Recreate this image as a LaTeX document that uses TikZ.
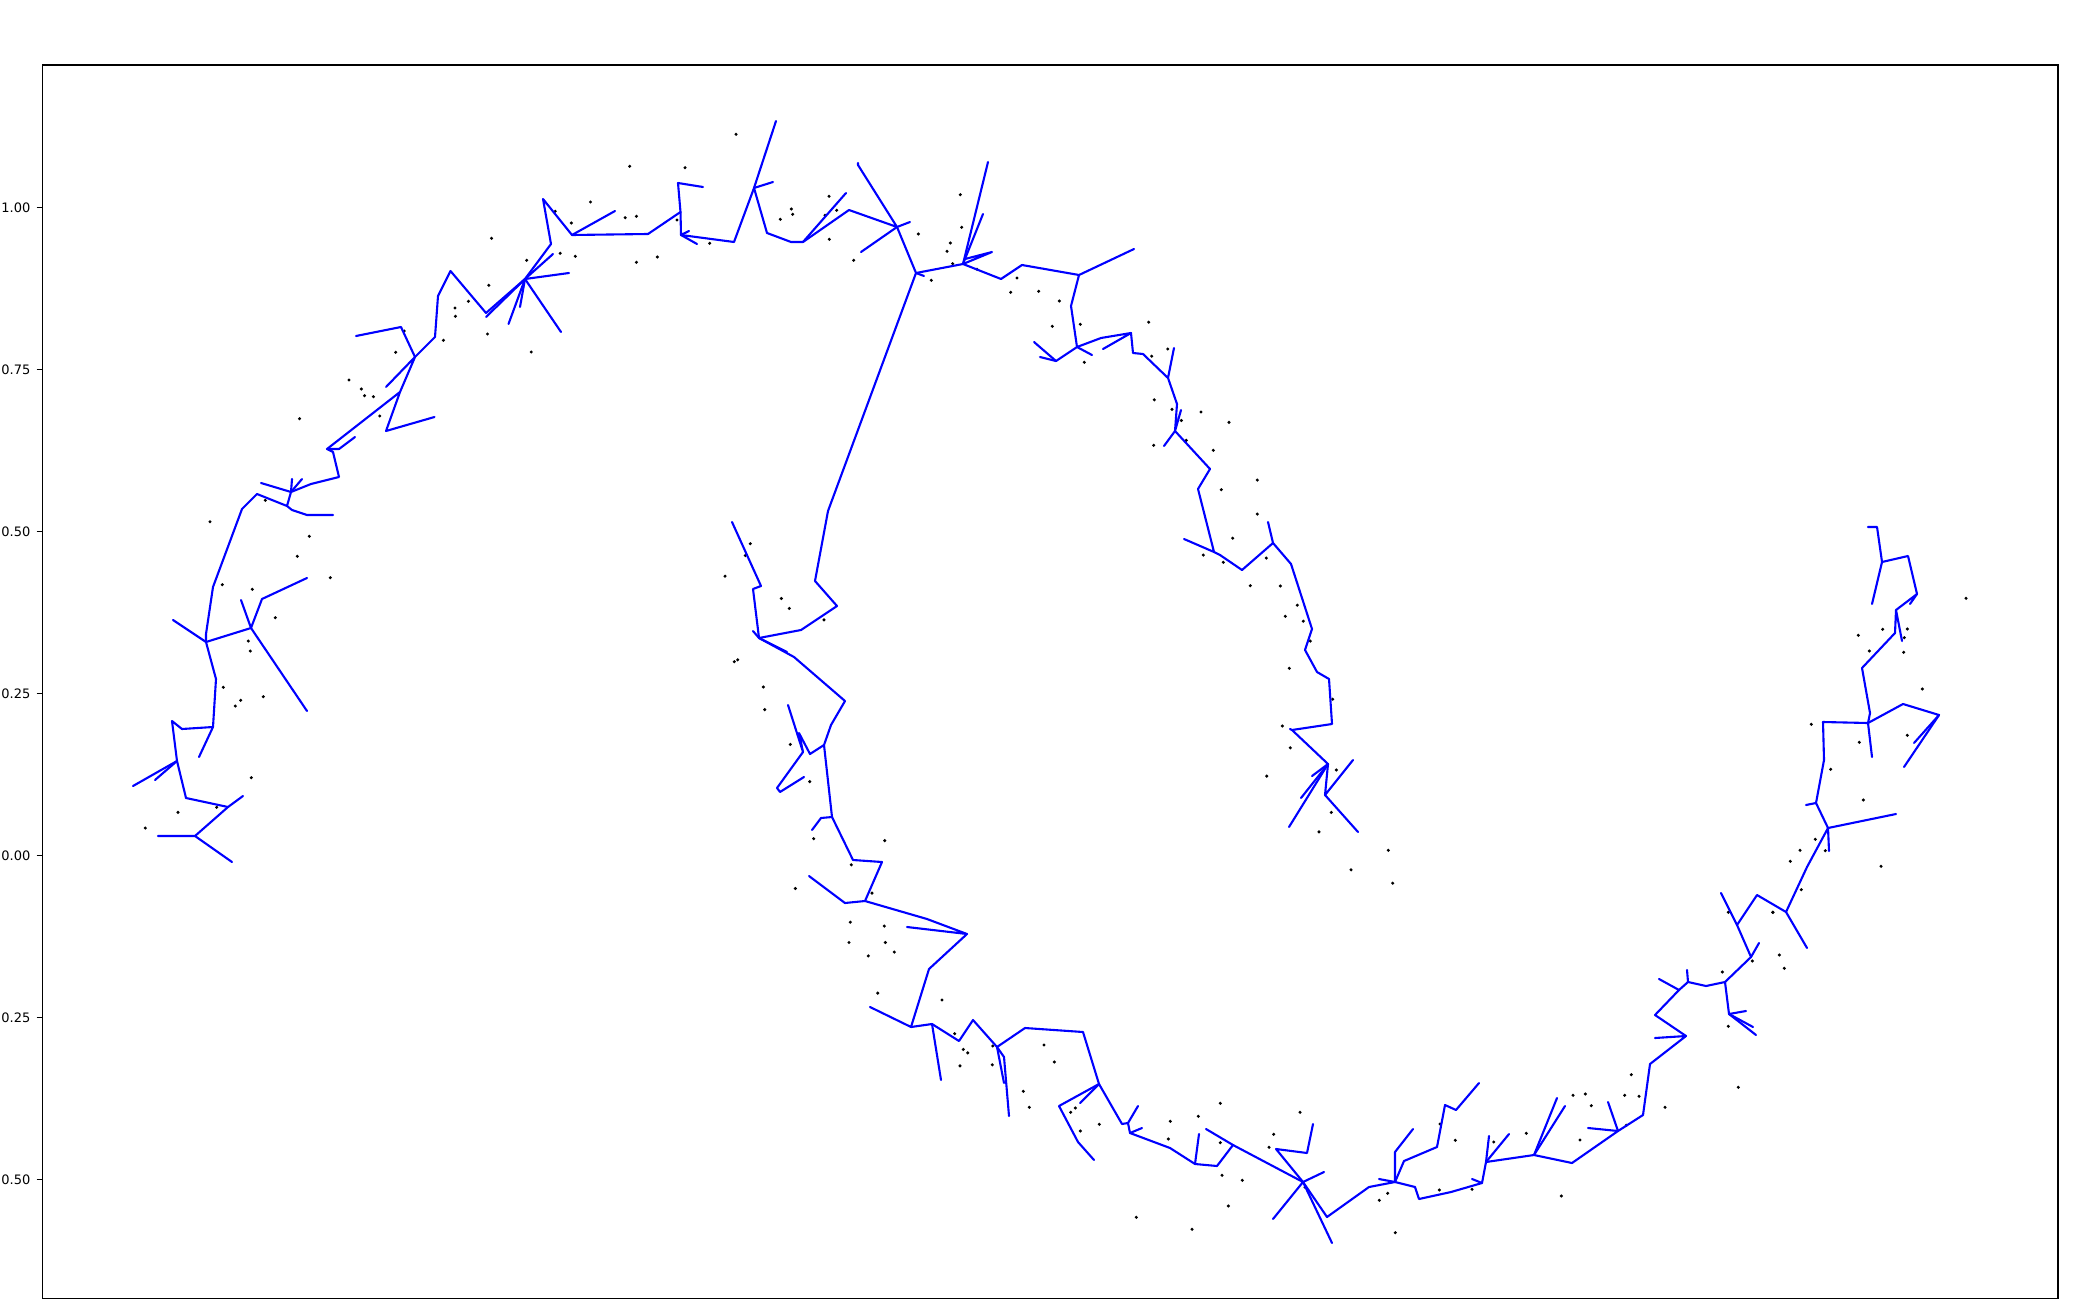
\documentclass[tikz,border=0pt]{standalone}
\usepackage{fontspec}
\setmainfont{DejaVu Sans}
\begin{document}
\begin{tikzpicture}[x=1pt,y=-1pt,
  tree/.style={draw={rgb,255:red,0;green,0;blue,255},line width=2.1pt,line join=round,line cap=round},
  dotp/.style={fill=black},
  ticklab/.style={anchor=east,inner sep=0pt,font=\fontsize{13}{13}\selectfont}]
\useasboundingbox (0,0) rectangle (2100,1300);
% axes frame
\draw[line width=1.7pt] (42.5,65) rectangle (2058,1298.6);
\foreach \yy/\lab/\nm in {207.3/1.00/ta,369.3/0.75/tb,531.3/0.50/tc,693.3/0.25/td,855.3/0.00/te,1017.3/0.25/tf,1179.3/0.50/tg}{
  \draw[line width=1.2pt] (36.5,\yy) -- (42.5,\yy);
  \node[ticklab] (\nm) at (30.5,\yy) {\lab};
}
% isolated points
\foreach \px/\py in {629.7/166.3,685/167.7,590.5/202,555.2/211.3,571.3/223,625.2/217.7,636.4/216.3,677/220,491.5/238.3,526.7/260.3,560.2/253.3,575.3/256.3,636.4/262.3,657.3/257,488.8/285.3,468.4/301.3,455/308,455.4/316.3,487.5/334,531.2/352,443.4/340.3,404.2/331,395.7/352.3,349/380,361.4/389,364.5/395.7,373.4/396.7,379.7/416,299.5/418.7,
210/521.7,222.3/584.7,252.3/589.3,265.3/500.3,309.3/536.3,297.3/556.3,330.3/577.7,275.3/617.7,248.3/641,250.3/651,223.3/687.3,240.7/700.3,235.3/706,263.3/696.7,251.3/777.7,216.7/807.3,178/812.3,145.3/828,
736/134.3,709.7/243.3,829/196.3,791.3/209,792.7/214.3,780.3/219.3,825/215.3,836.7/210.3,829.3/239.3,853.7/260.3,918.3/234,960.3/194.7,961.7/227.3,950.3/243,947/251.3,952.7/263.7,977/269.3,931.3/280.3,1017/278,1010.7/292.3,1038.7/291.3,1059.3/301,1052.3/326.3,1080.3/324.3,1084.3/362.3,
1148.7/322.2,1167.7/349,1151.7/356.2,1154.3/399.8,1172/409.4,1201/412,1181.3/420.5,1229/422.4,1153.7/445.3,1186.3/440.3,1213.3/450.3,1257.3/480.1,1221.3/489.7,1257.3/514.1,1232.7/538.2,1203.3/555.1,1223.3/562.3,1266.3/558.1,1250.3/585.7,1280.3/586,1297.3/605.2,1285.3/616.3,1303.3/621.2,1310.3/641.1,1289.3/668.3,1332.7/699.2,1282.3/726,1290.3/747.8,1336.3/770,1266.7/776.1,1331.3/812.4,1319/831.9,1388.3/850.3,1351/869.8,1392.7/883.2,
750.3/543.7,745.3/555.6,725/576.2,781.3/598.5,789.3/608.4,824/619.9,737.7/659.8,734.3/661.7,763.3/687,764.7/709.6,790.3/744.4,809.7/781.6,813.7/838.7,884.7/840.6,851.3/864.8,795.3/888.5,872/893.1,850.3/922.2,884.3/926.1,849/942.5,885.3/942.5,894.3/952.1,868.3/955.9,877.7/993.1,942/1000,954.7/1033.7,963.3/1049.4,967.7/1052.9,960/1065.9,992.3/1064.8,
992.7/1046,1044/1045,1054.3/1062,1023.3/1091.3,1029.3/1107.3,1075.3/1108,1070.7/1112.3,1099.3/1124.3,1080.3/1131,1220.3/1103.3,1198.3/1116.3,1170.3/1121.3,1168.3/1139,1220.3/1142.7,1222/1175.3,1242.3/1180.3,1228.3/1206,1136.3/1217.3,1192/1229.3,1300/1112.3,1273.7/1134.3,1269/1147.3,1305/1187.3,1387.7/1193.3,1379.3/1200.3,1395.3/1232.7,
1728.3/912.3,1772.7/912.3,1779.3/955,1784.3/968.3,1752.3/961,1722.3/972,1728.3/1026.3,1631.3/1074.7,1738.3/1087.3,1665/1107.3,1624.7/1095.3,1639/1096.3,1573/1095.3,1585.3/1094,1591.3/1105.7,1626.3/1125.3,1580/1140,1526.3/1133.3,1493.7/1142,1455.3/1140.3,1440/1124,1439.3/1190,1472/1189.3,1561.3/1196,
1966/598.3,1858.3/635.3,1882.7/629.3,1907.3/629,1904.3/637.7,1869.3/651,1903.7/652.3,1922.3/689,1811.3/724.3,1859.3/742.3,1907.3/735.3,1830.7/769.3,1863.3/800,1815.3/839.3,1800/850.3,1825.3/850.7,1790.3/861.3,1881/866.3,1801.3/889.7,1773/912.3}{
  \fill[dotp] (\px,\py) circle[radius=1.7pt];
}
% tree edges: upper moon
\draw[tree] (158,836)--(195,836)--(232,862);
\draw[tree] (195,836)--(228,807)--(243,796);
\draw[tree] (228,807)--(186,798)--(177,761)--(133,786);
\draw[tree] (177,761)--(155,780);
\draw[tree] (177,761)--(172,721)--(182,729)--(213,727)--(199,757);
\draw[tree] (213,727)--(216,679)--(206,642)--(173,620);
\draw[tree] (206,642)--(206,634)--(213,587)--(242,509)--(257,494)--(287,506)--(291,492)--(261,483);
\draw[tree] (291,492)--(292,479);
\draw[tree] (291,492)--(302,479);
\draw[tree] (291,492)--(311,484)--(339,477)--(333,452)--(327,449)--(339,449)--(355,437);
\draw[tree] (287,506)--(292,510)--(307,515)--(333,515);
\draw[tree] (206,642)--(251,628)--(241,600);
\draw[tree] (251,628)--(262,599)--(307,578);
\draw[tree] (251,628)--(307,711);
\draw[tree] (327,449)--(400,392)--(386,431)--(434.5,417);
\draw[tree] (400,392)--(415,357)--(386,387);
\draw[tree] (415,357)--(401,327)--(356,336);
\draw[tree] (415,357)--(435,337)--(438,296)--(450.5,271)--(486,313)--(525,279);
\draw[tree] (525,279)--(486,317);
\draw[tree] (525,279)--(551,244)--(543,199)--(572,235)--(615,211);
\draw[tree] (525,279)--(553,254);
\draw[tree] (525,279)--(569,273);
\draw[tree] (525,279)--(520,307);
\draw[tree] (525,279)--(508.5,324);
\draw[tree] (525,279)--(561,332);
\draw[tree] (572,235)--(648,234)--(680.5,212)--(678,183)--(703,187);
\draw[tree] (680.5,212)--(681,235)--(689,231);
\draw[tree] (681,235)--(697,244);
\draw[tree] (681,235)--(734,242)--(754,188)--(776,121);
\draw[tree] (754,188)--(773,182);
\draw[tree] (754,188)--(767,233)--(791,242)--(803,242)--(846,193);
\draw[tree] (803,242)--(849,210)--(897,227)--(858,165)--(858,163);
\draw[tree] (897,227)--(910,222);
\draw[tree] (897,227)--(861,252);
\draw[tree] (897,227)--(916,273)--(828,511);
\draw[tree] (916,273)--(924,276);
\draw[tree] (916,273)--(963,264)--(988,162);
\draw[tree] (963,264)--(965,259)--(983,214);
\draw[tree] (965,259)--(992,252)--(963,264);
\draw[tree] (963,264)--(1001,279)--(1022,265)--(1079,275)--(1134,249);
\draw[tree] (1079,275)--(1071,306)--(1077,347)--(1056,361)--(1034,342);
\draw[tree] (1056,361)--(1040,357);
\draw[tree] (1077,347)--(1092,355);
\draw[tree] (1077,347)--(1101,338)--(1131,333)--(1103,349);
\draw[tree] (1131,333)--(1133,353)--(1143,354)--(1168,378)--(1174,348);
\draw[tree] (1168,378)--(1177,404)--(1175,431)--(1181,410);
\draw[tree] (1175,431)--(1164,446);
\draw[tree] (1175,431)--(1210,469)--(1198,489)--(1214,552)--(1184,539);
\draw[tree] (1214,552)--(1220,555)--(1242,570)--(1273,543)--(1268,522);
\draw[tree] (1273,543)--(1291,564)--(1312,629)--(1305,650)--(1317,672)--(1329,679)--(1332,724)--(1292,730)--(1290,729);
\draw[tree] (1292,730)--(1328,764)--(1325,795)--(1353,760);
\draw[tree] (1325,795)--(1358,832);
\draw[tree] (1328,764)--(1312,776);
\draw[tree] (1328,764)--(1301,798);
\draw[tree] (1328,764)--(1289,827);
% lower moon
\draw[tree] (828,511)--(815,581)--(837,606)--(801,630)--(759,638)--(753,631);
\draw[tree] (759,638)--(753,589)--(761,586)--(732,522);
\draw[tree] (759,638)--(787,652);
\draw[tree] (759,638)--(794,657)--(845,701)--(831,725)--(824,745)--(810,754)--(799,733)--(803,752)--(788,705);
\draw[tree] (803,752)--(777,788)--(780,792)--(804,777);
\draw[tree] (824,745)--(832,817)--(821,818)--(812,830);
\draw[tree] (832,817)--(853,860)--(882,862)--(865,901)--(845,903)--(809,876);
\draw[tree] (865,901)--(927,919)--(967,934)--(907,927);
\draw[tree] (967,934)--(929,969)--(911,1027)--(870,1007);
\draw[tree] (911,1027)--(932,1024)--(941,1080);
\draw[tree] (932,1024)--(959,1041)--(973,1020)--(997,1047);
\draw[tree] (997,1047)--(1025,1028)--(1083,1032)--(1099,1084)--(1059,1106)--(1078,1142)--(1094,1160);
\draw[tree] (997,1047)--(1004,1057)--(1009,1116);
\draw[tree] (997,1047)--(1004,1083);
\draw[tree] (1099,1084)--(1080,1103);
\draw[tree] (1099,1084)--(1122,1124)--(1128,1123)--(1138,1106);
\draw[tree] (1128,1123)--(1130,1133)--(1142,1128);
\draw[tree] (1130,1133)--(1170,1148)--(1195,1164)--(1199,1134);
\draw[tree] (1195,1164)--(1217,1166)--(1233,1145)--(1206,1129);
\draw[tree] (1233,1145)--(1303,1182)--(1273,1219);
\draw[tree] (1303,1182)--(1332,1243);
\draw[tree] (1303,1182)--(1324,1172);
\draw[tree] (1303,1182)--(1276,1149)--(1307,1153)--(1313,1124);
\draw[tree] (1303,1182)--(1327,1217)--(1369,1187)--(1395,1182)--(1379,1179);
\draw[tree] (1395,1182)--(1395,1152)--(1413,1129);
\draw[tree] (1395,1182)--(1404,1161)--(1437,1147)--(1445,1105)--(1456,1110)--(1479,1083);
\draw[tree] (1395,1182)--(1415,1187)--(1419,1199)--(1451,1192)--(1482,1183)--(1472,1179);
\draw[tree] (1482,1183)--(1486,1162)--(1489,1136);
\draw[tree] (1486,1162)--(1509,1134);
\draw[tree] (1486,1162)--(1534,1155)--(1557,1098);
\draw[tree] (1534,1155)--(1565,1106);
\draw[tree] (1534,1155)--(1572,1163)--(1618,1131)--(1588,1128);
\draw[tree] (1618,1131)--(1608,1102);
\draw[tree] (1618,1131)--(1643,1115)--(1650,1064)--(1686,1036)--(1655,1038);
\draw[tree] (1686,1036)--(1655,1015)--(1679,990)--(1659,979);
\draw[tree] (1679,990)--(1688,982)--(1687,970);
\draw[tree] (1688,982)--(1706,986)--(1725,982)--(1729,1014)--(1746,1011);
\draw[tree] (1729,1014)--(1753,1027);
\draw[tree] (1729,1014)--(1756,1035);
\draw[tree] (1725,982)--(1751,957)--(1759,943);
\draw[tree] (1751,957)--(1737,925)--(1721,893);
\draw[tree] (1737,925)--(1757,895)--(1786,912)--(1807,948);
\draw[tree] (1786,912)--(1807,867)--(1828,828)--(1829,851);
\draw[tree] (1828,828)--(1896,814);
\draw[tree] (1828,828)--(1816,803)--(1806,805);
\draw[tree] (1816,803)--(1824,760)--(1823,722)--(1868,723)--(1872,757);
\draw[tree] (1868,723)--(1870,713)--(1862,668)--(1895,633)--(1896,610)--(1902,641);
\draw[tree] (1896,610)--(1917,594)--(1910,604);
\draw[tree] (1917,594)--(1908,556)--(1882,562)--(1877,527)--(1868,527);
\draw[tree] (1882,562)--(1872,604);
\draw[tree] (1868,723)--(1903,704)--(1939,715)--(1914,743);
\draw[tree] (1939,715)--(1904,767);
\end{tikzpicture}
\end{document}
